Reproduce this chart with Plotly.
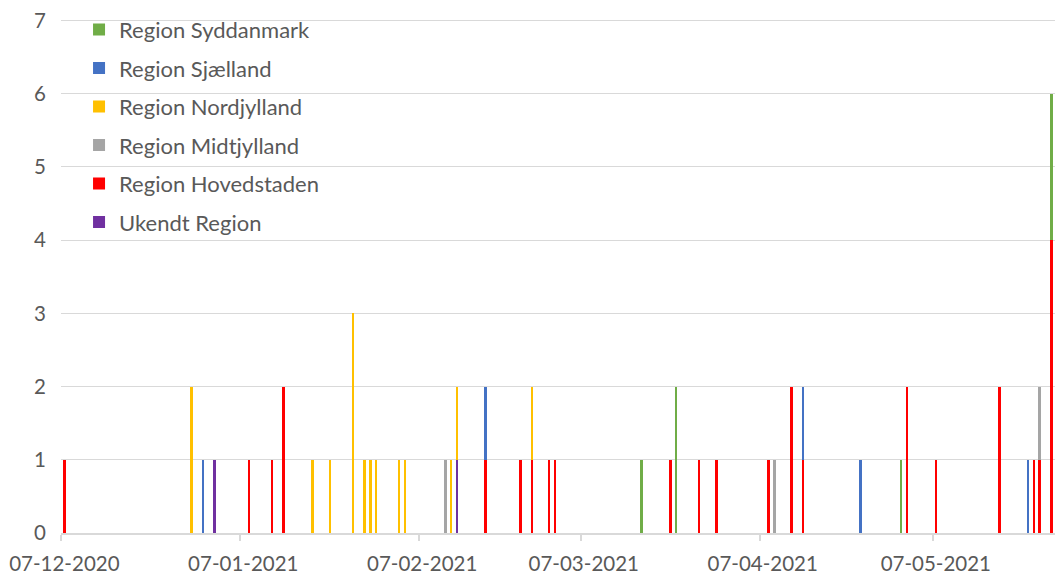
import plotly.graph_objects as go

# ---- data ----
ukendt_dates = ["2021-01-02", "2021-02-13"]
ukendt_vals = [1, 1]

hoved_dates = ["2020-12-07", "2021-01-08", "2021-01-12", "2021-01-14", "2021-02-18",
               "2021-02-24", "2021-02-26", "2021-03-01", "2021-03-02", "2021-03-22",
               "2021-03-27", "2021-03-30", "2021-04-08", "2021-04-12", "2021-04-14",
               "2021-05-02", "2021-05-07", "2021-05-18", "2021-05-24", "2021-05-25",
               "2021-05-27", "2021-05-28", "2021-05-29"]
hoved_vals = [1, 1, 1, 2, 1,
              1, 1, 1, 1, 1,
              1, 1, 1, 2, 1,
              2, 1, 2, 1, 1,
              4, 2, 2]

midt_dates = ["2021-02-11", "2021-04-09", "2021-05-25"]
midt_vals = [1, 1, 1]

nord_dates = ["2020-12-29", "2021-01-19", "2021-01-22", "2021-01-26", "2021-01-28",
              "2021-01-29", "2021-01-30", "2021-02-03", "2021-02-04", "2021-02-12",
              "2021-02-13", "2021-02-26"]
nord_vals = [2, 1, 1, 3, 1, 1, 1, 1, 1, 1, 1, 1]

sjael_dates = ["2020-12-31", "2021-02-18", "2021-04-14", "2021-04-24", "2021-05-23"]
sjael_vals = [1, 1, 1, 1, 1]

syd_dates = ["2021-03-17", "2021-03-23", "2021-05-01", "2021-05-27"]
syd_vals = [1, 2, 1, 2]

tick_dates = ["2020-12-07", "2021-01-07", "2021-02-07", "2021-03-07", "2021-04-07", "2021-05-07"]
tick_text = ["07-12-2020", "07-01-2021", "07-02-2021", "07-03-2021", "07-04-2021", "07-05-2021"]

# series in stacking order (bottom first)
series = [
    ("Ukendt Region", ukendt_dates, ukendt_vals, "#7030A0"),
    ("Region Hovedstaden", hoved_dates, hoved_vals, "#FF0000"),
    ("Region Midtjylland", midt_dates, midt_vals, "#A5A5A5"),
    ("Region Nordjylland", nord_dates, nord_vals, "#FFC000"),
    ("Region Sjælland", sjael_dates, sjael_vals, "#4472C4"),
    ("Region Syddanmark", syd_dates, syd_vals, "#70AD47"),
]

DAY = 86400000

fig = go.Figure()
n = len(series)
for i, (name, xs, ys, col) in enumerate(series):
    fig.add_trace(go.Bar(
        x=xs, y=ys, name=name, legendgroup=name, legendrank=n - i,
        marker=dict(color=col, line=dict(width=0)),
        width=[0.45 * DAY] * len(xs),
        xperiod=DAY, xperiodalignment="middle",
    ))

# labels centred on the day slot, tick marks at the slot start
label_vals = [d + " 12:00" for d in tick_dates]

# page body has an 8px default margin; figure sized so plot fills the window
fig.update_layout(
    barmode="stack",
    width=1055, height=567,
    margin=dict(l=53, r=0, t=11, b=42),
    paper_bgcolor="white", plot_bgcolor="white",
    font=dict(family="Lato, Open Sans, sans-serif", size=20.5, color="#595959"),
    showlegend=True,
    legend=dict(
        x=0.018, y=1.02, xanchor="left", yanchor="top",
        traceorder="grouped", tracegroupgap=6.9,
        bgcolor="rgba(255,255,255,0)",
        font=dict(size=22, color="#595959"),
    ),
    xaxis=dict(
        type="date",
        range=["2020-12-06 22:00", "2021-05-29 13:00"],
        tickvals=label_vals, ticktext=tick_text,
        ticks="",
        showgrid=False,
        showline=True, linecolor="#D9D9D9", linewidth=1.5,
        minor=dict(tickvals=tick_dates, ticks="outside", tickcolor="#D9D9D9",
                   ticklen=6, tickwidth=1.5, showgrid=False),
        ticklabelstandoff=12,
        ticklabeloverflow="allow",
        tickfont=dict(size=20.5),
    ),
    yaxis=dict(
        range=[0, 7.02], tickvals=[0, 1, 2, 3, 4, 5, 6, 7],
        showgrid=True, gridcolor="#D9D9D9", gridwidth=1.3,
        zeroline=False, showline=False,
        ticklabelstandoff=14,
        ticklabeloverflow="allow",
        tickfont=dict(size=20.5),
    ),
)

fig.write_html("out.html")
